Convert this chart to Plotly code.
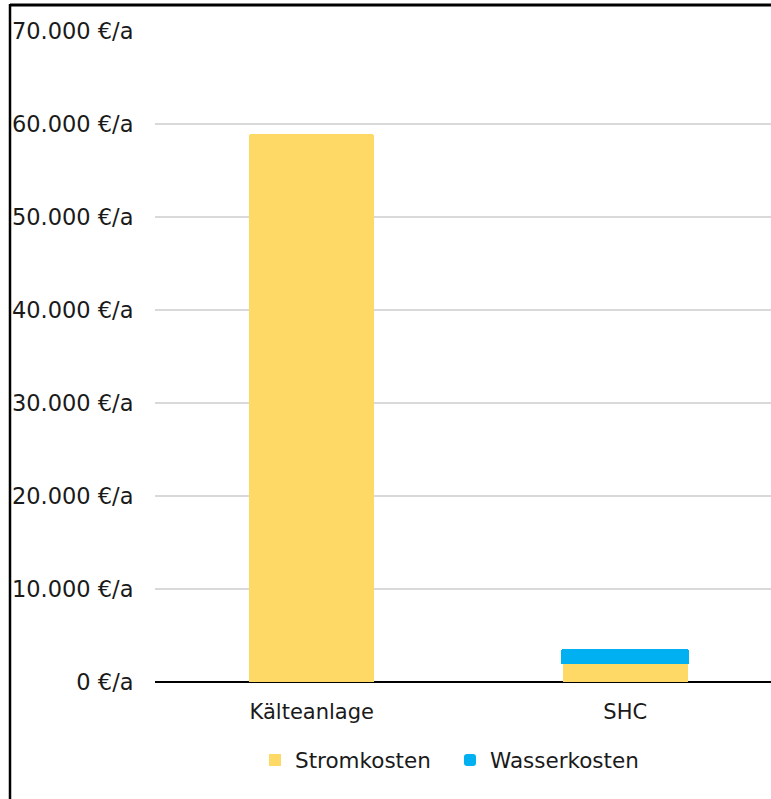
import plotly.graph_objects as go

# Annual operating costs per system
categories = ["Kälteanlage", "SHC"]
stromkosten = [58900, 2050]
wasserkosten = [0, 1350]
ytick_vals = [0, 10000, 20000, 30000, 40000, 50000, 60000, 70000]
ytick_text = ["0 €/a", "10.000 €/a", "20.000 €/a", "30.000 €/a",
              "40.000 €/a", "50.000 €/a", "60.000 €/a", "70.000 €/a"]

YELLOW = "#FFD966"
BLUE = "#00B0F0"
FONT = "DejaVu Sans"
TEXT = "#1a1a1a"

W, H = 771, 799
ML, MR, MT, MB = 155, 0, 31, 117

fig = go.Figure()
fig.add_trace(go.Bar(
    name="Stromkosten", x=categories, y=stromkosten,
    marker=dict(color=YELLOW, line=dict(width=0)), width=0.4,
))
fig.add_trace(go.Bar(
    name="Wasserkosten", x=categories, y=wasserkosten,
    marker=dict(color=BLUE, line=dict(width=[0, 3], color=BLUE), cornerradius=2),
    width=0.4,
))

# Frame lines along the top and left edge of the figure
pw = W - ML - MR
ph = H - MT - MB
def px_to_paper_x(px):
    return (px - ML) / pw
def px_to_paper_y(py):
    return (H - MB - py) / ph

fig.add_shape(type="line", xref="paper", yref="paper",
              x0=px_to_paper_x(10), x1=px_to_paper_x(W + 5),
              y0=px_to_paper_y(5), y1=px_to_paper_y(5),
              line=dict(color="black", width=3), layer="above")
fig.add_shape(type="line", xref="paper", yref="paper",
              x0=px_to_paper_x(10), x1=px_to_paper_x(10),
              y0=px_to_paper_y(4), y1=px_to_paper_y(H + 5),
              line=dict(color="black", width=2.5), layer="above")

fig.update_layout(
    width=W, height=H,
    margin=dict(l=ML, r=MR, t=MT, b=MB, pad=0),
    barmode="stack",
    paper_bgcolor="white", plot_bgcolor="white",
    font=dict(family=FONT, size=21, color=TEXT),
    showlegend=True,
    legend=dict(orientation="h", x=px_to_paper_x(255), xanchor="left",
                y=px_to_paper_y(760), yanchor="middle",
                font=dict(family=FONT, size=21.5, color=TEXT),
                itemwidth=30, traceorder="normal",
                entrywidth=150, entrywidthmode="pixels"),
    xaxis=dict(range=[-0.5, 1.465], showgrid=False, showline=False,
               ticks="outside", ticklen=11, tickcolor="rgba(0,0,0,0)",
               tickfont=dict(family=FONT, size=21, color=TEXT), fixedrange=True),
    yaxis=dict(range=[0, 70000], tickvals=ytick_vals, ticktext=ytick_text,
               showgrid=True, gridcolor="#D9D9D9", gridwidth=2,
               zeroline=True, zerolinecolor="black", zerolinewidth=2,
               showline=False, ticks="outside", ticklen=16, tickcolor="rgba(0,0,0,0)",
               tickfont=dict(family=FONT, size=22.5, color=TEXT)),
)

fig.write_html("out.html")
